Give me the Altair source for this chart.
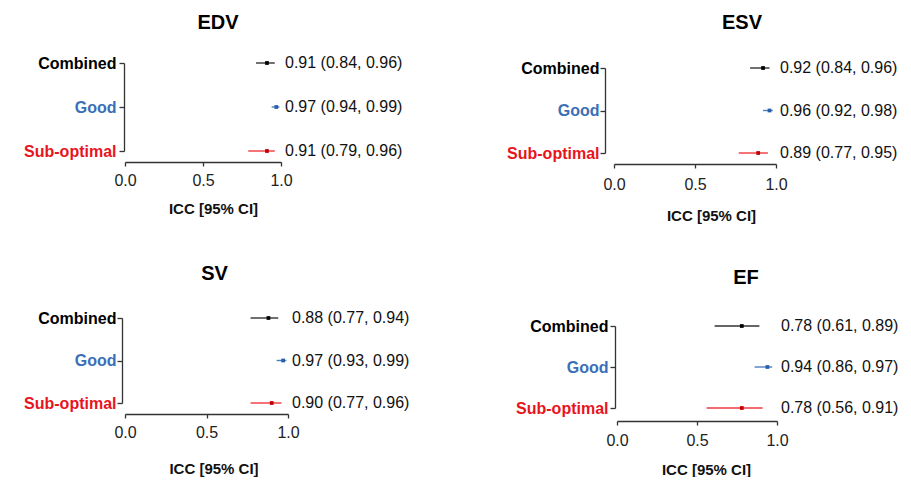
import altair as alt
import pandas as pd

# ---- data ----
panels = ["EDV", "ESV", "SV", "EF"]
groups = ["Combined", "Good", "Sub-optimal"]
icc = {
    "EDV": [0.91, 0.97, 0.91],
    "ESV": [0.92, 0.96, 0.89],
    "SV": [0.88, 0.97, 0.90],
    "EF": [0.78, 0.94, 0.78],
}
lower = {
    "EDV": [0.84, 0.94, 0.79],
    "ESV": [0.84, 0.92, 0.77],
    "SV": [0.77, 0.93, 0.77],
    "EF": [0.61, 0.86, 0.56],
}
upper = {
    "EDV": [0.96, 0.99, 0.96],
    "ESV": [0.96, 0.98, 0.95],
    "SV": [0.94, 0.99, 0.96],
    "EF": [0.89, 0.97, 0.91],
}
x_ticks = [0.0, 0.5, 1.0]

# ---- styling ----
FONT = "Liberation Sans"
BLUE = "#3a6fb7"
RED = "#e8141c"
label_colors = ["#000000", BLUE, RED]
line_colors = ["#333333", "#4a7fc4", "#f2383e"]
point_colors = ["#000000", "#2a5fa8", "#c00000"]
AXIS = "#333333"

# panel geometry (pixels): plot size, y-range inside plot, axis offsets/paddings, title offsets
layout = {
    "EDV": dict(w=156, h=88, top=0, yoff=1, ylp=3, xoff=11, xlp=6, tp=13, toff=22, tdx=15, atx=10),
    "ESV": dict(w=162, h=90, top=5, yoff=9, ylp=1, xoff=11, xlp=8, tp=16, toff=27, tdx=47, atx=16),
    "SV": dict(w=163, h=85, top=0, yoff=3, ylp=1, xoff=11, xlp=6, tp=21.5, toff=26, tdx=8, atx=7),
    "EF": dict(w=160, h=90, top=8, yoff=2, ylp=2, xoff=13, xlp=7, tp=14, toff=30, tdx=49, atx=9),
}


def panel(name):
    p = layout[name]
    df = pd.DataFrame({
        "group": groups,
        "icc": icc[name],
        "lo": lower[name],
        "hi": upper[name],
    })
    df["label"] = [f"{a:.2f} ({b:.2f}, {c:.2f})" for a, b, c in zip(df.icc, df.lo, df.hi)]

    y_axis = alt.Axis(
        title=None, grid=False, domainColor=AXIS, domainWidth=1.3,
        tickColor=AXIS, tickWidth=1.3, tickSize=5,
        labelPadding=p["ylp"], offset=p["yoff"],
        labelFont=FONT, labelFontSize=16, labelFontWeight="bold",
        labelColor={
            "condition": [
                {"test": f"datum.value === '{groups[1]}'", "value": label_colors[1]},
                {"test": f"datum.value === '{groups[2]}'", "value": label_colors[2]},
            ],
            "value": label_colors[0],
        },
    )
    y = alt.Y(
        "group:N", sort=groups,
        scale=alt.Scale(type="point", padding=0, range=[p["top"], p["h"]]),
        axis=y_axis,
    )

    x_axis = alt.Axis(
        values=x_ticks, format=".1f", title="ICC [95% CI]", grid=False,
        offset=p["xoff"], tickSize=4, tickColor=AXIS, tickWidth=1.3,
        domainColor=AXIS, domainWidth=1.3,
        labelFont=FONT, labelFontSize=16, labelColor="#222222", labelPadding=p["xlp"],
        labelFlush=False,
        titleFont=FONT, titleFontSize=15, titleFontWeight="bold", titleColor="#111111",
        titlePadding=p["tp"], titleX=p["w"] / 2 + p["atx"],
    )
    x_scale = alt.Scale(domain=[0, 1], nice=False, zero=False)

    base = alt.Chart(df)
    bars = base.mark_rule(strokeWidth=1.4).encode(
        x=alt.X("lo:Q", scale=x_scale, axis=x_axis),
        x2="hi:Q",
        y=y,
        color=alt.Color("group:N", scale=alt.Scale(domain=groups, range=line_colors), legend=None),
    )
    pts = base.mark_point(shape="square", filled=True, size=14, opacity=1).encode(
        x=alt.X("icc:Q", scale=x_scale),
        y=y,
        color=alt.Color("group:N", scale=alt.Scale(domain=groups, range=point_colors), legend=None),
    )
    txt = base.mark_text(align="left", baseline="middle", dx=4, font=FONT, fontSize=16, color="#111111").encode(
        x=alt.datum(1.0),
        y=y,
        text="label:N",
    )
    return (
        alt.layer(bars, pts, txt)
        .resolve_scale(color="independent")
        .properties(
            width=p["w"], height=p["h"],
            title=alt.Title(name, font=FONT, fontSize=20, fontWeight="bold", color="#000000",
                            anchor="middle", offset=p["toff"], dx=p["tdx"]),
        )
    )


top = alt.hconcat(panel("EDV"), panel("ESV"), spacing=103)
bottom = alt.hconcat(panel("SV"), panel("EF"), spacing=105)

chart = (
    alt.vconcat(top, bottom, spacing=41)
    .properties(padding={"left": 15, "top": 5, "right": 0, "bottom": 0}, background="white")
    .configure_view(stroke=None)
)

chart.save("out.html", embed_options={"renderer": "svg", "actions": False})
